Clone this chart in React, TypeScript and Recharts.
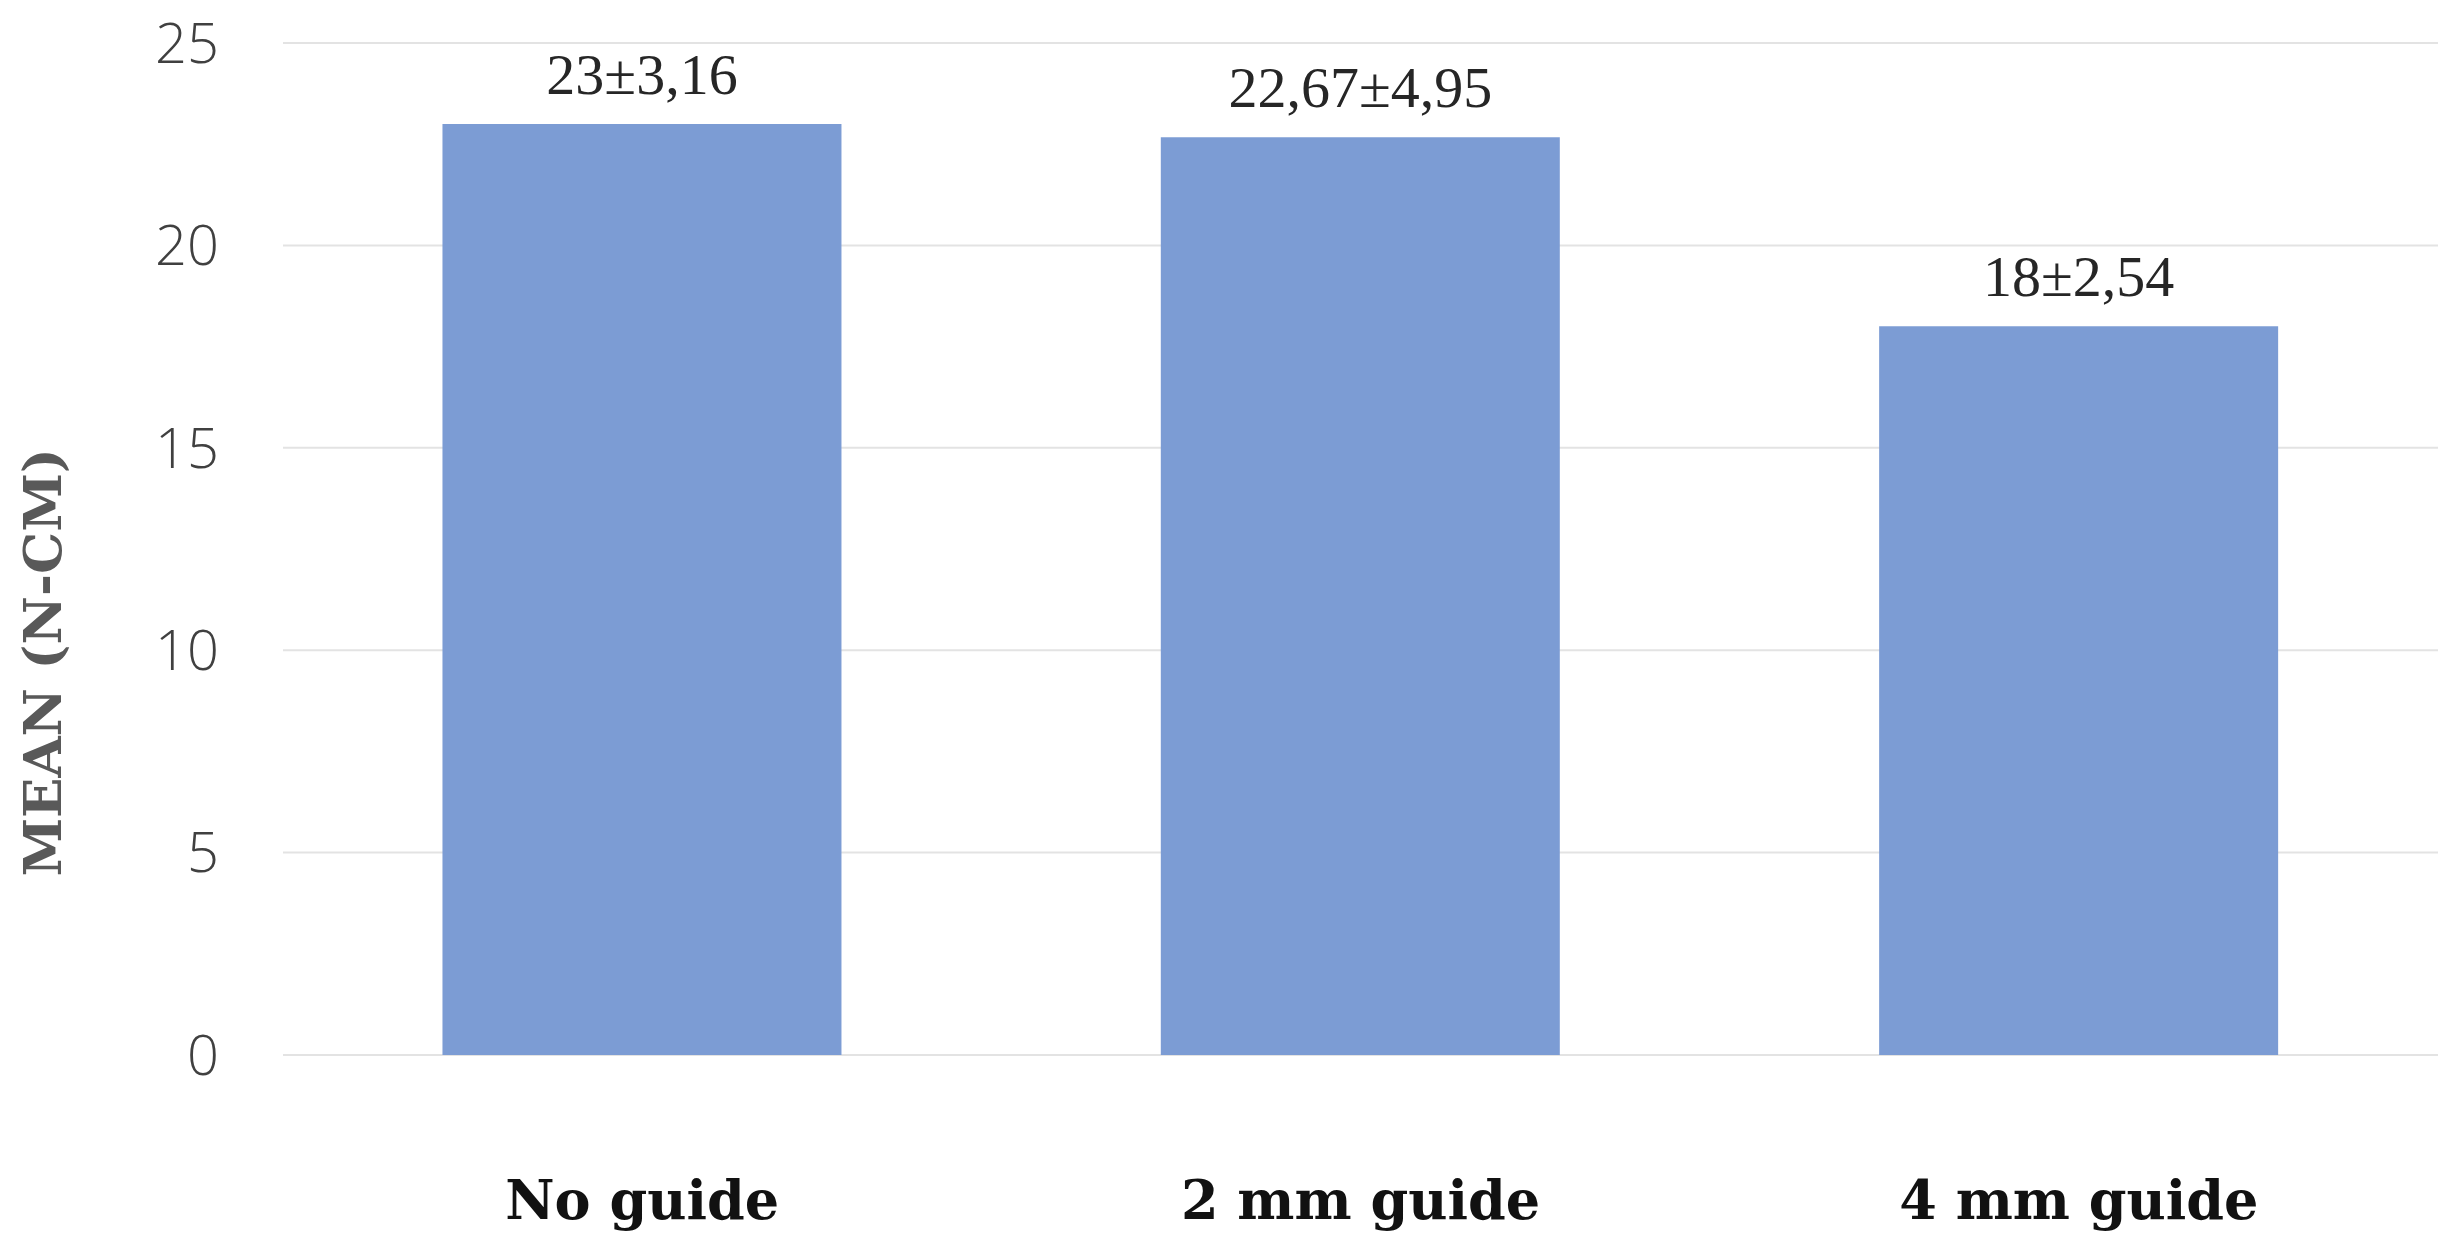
import React from "react";
import { BarChart, Bar, XAxis, YAxis, CartesianGrid, LabelList } from "recharts";

const categories = ["No guide", "2 mm guide", "4 mm guide"];
const means = [23, 22.67, 18];
const valueLabels = ["23±3,16", "22,67±4,95", "18±2,54"];
const yTicks = [0, 5, 10, 15, 20, 25];

const data = categories.map((c, i) => ({ name: c, mean: means[i], label: valueLabels[i] }));

const YTitle = (props: any) => {
  const vb = props.viewBox || {};
  const x = 42;
  const y = (vb.y ?? 43) + (vb.height ?? 1012) * 0.612;
  return (
    <text
      x={x}
      y={y}
      transform={`rotate(-90, ${x}, ${y})`}
      textAnchor="middle"
      dominantBaseline="central"
      fontFamily="'DejaVu Serif', serif"
      fontWeight="bold"
      fontSize={53}
      fill="#595959"
    >
      MEAN (N-CM)
    </text>
  );
};

export default function App() {
  return (
    <div style={{ position: "absolute", left: 0, top: 0, background: "#fff" }}>
      <BarChart
        width={2457}
        height={1257}
        data={data}
        margin={{ top: 43, right: 19, bottom: 0, left: 0 }}
        barCategoryGap="22.2%"
      >
        <CartesianGrid vertical={false} stroke="#e3e3e3" strokeWidth={2} />
        <XAxis
          dataKey="name"
          axisLine={false}
          tickLine={false}
          tickSize={0}
          tickMargin={126}
          height={202}
          tick={{ fontFamily: "'DejaVu Serif', serif", fontWeight: "bold", fontSize: 54, fill: "#111" }}
          interval={0}
        />
        <YAxis
          domain={[0, 25]}
          ticks={yTicks}
          width={283}
          axisLine={false}
          tickLine={false}
          tickSize={0}
          tickMargin={64}
          tick={{ fontFamily: "'Open Sans', sans-serif", fontWeight: 300, fontSize: 56, fill: "#404040" }}
          label={<YTitle />}
        />
        <Bar dataKey="mean" fill="#7C9CD4" isAnimationActive={false}>
          <LabelList
            dataKey="label"
            position="top"
            offset={30}
            fontFamily="'Liberation Serif', serif"
            fontSize={58}
            fill="#262626"
          />
        </Bar>
      </BarChart>
    </div>
  );
}
